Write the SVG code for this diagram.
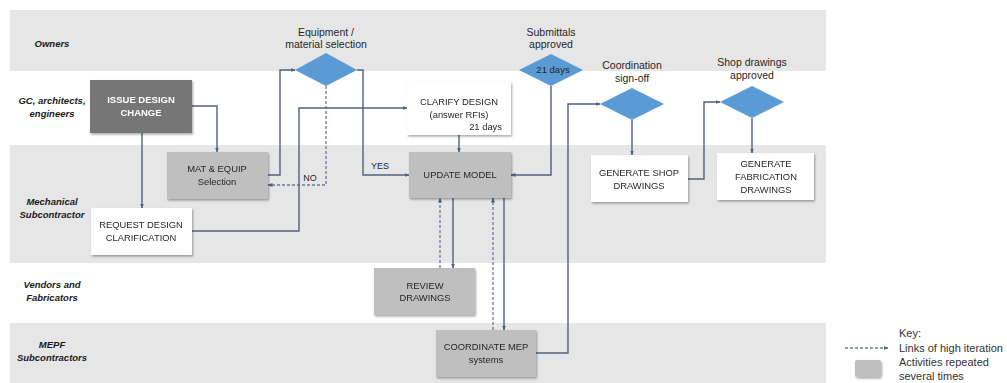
<svg xmlns="http://www.w3.org/2000/svg" width="1007" height="383" viewBox="0 0 1007 383">
  <defs>
    <style>
      .band { fill: #e6e6e6; }
      .lane { font-family: "Liberation Sans", Arial, sans-serif; font-size: 9.5px; font-weight: bold; font-style: italic; fill: #1a1a1a; text-anchor: middle; }
      .lbl { font-family: "Liberation Sans", Arial, sans-serif; font-size: 10.5px; fill: #262626; text-anchor: middle; }
      .yn { font-family: "Liberation Sans", Arial, sans-serif; font-size: 9px; fill: #262626; text-anchor: middle; }
      .boxtxt { font-family: "Liberation Sans", Arial, sans-serif; font-size: 9.4px; fill: #262626; text-anchor: middle; }
      .boxtxt-w { font-family: "Liberation Sans", Arial, sans-serif; font-size: 9.5px; font-weight: bold; fill: #ffffff; text-anchor: middle; }
      .days { font-family: "Liberation Sans", Arial, sans-serif; font-size: 9.4px; fill: #262626; text-anchor: end; }
      .key { font-family: "Liberation Sans", Arial, sans-serif; font-size: 11px; fill: #333333; }
      .dark { fill: #767676; }
      .light { fill: #bfbfbf; }
      .white { fill: #ffffff; }
      .dia { fill: #5b9bd5; }
      .con { fill: none; stroke: #52617f; stroke-width: 1.4; marker-end: url(#arr); }
      .dash { fill: none; stroke: #6a7a9a; stroke-width: 1.3; stroke-dasharray: 3 2; marker-end: url(#arr); }
    </style>
    <marker id="arr" viewBox="0 0 10 10" refX="9" refY="5" markerWidth="5" markerHeight="5" orient="auto" markerUnits="userSpaceOnUse">
      <path d="M0,1 L10,5 L0,9 z" fill="#52617f"/>
    </marker>
    <filter id="sh" x="-10%" y="-10%" width="125%" height="130%">
      <feDropShadow dx="1" dy="1.5" stdDeviation="1" flood-color="#000" flood-opacity="0.35"/>
    </filter>
  </defs>

  <!-- swimlane bands -->
  <g id="lanes">
    <rect class="band" x="10" y="10" width="816" height="61"/>
    <rect class="band" x="10" y="145" width="816" height="118"/>
    <rect class="band" x="10" y="323" width="816" height="60"/>
    <text class="lane" x="52" y="47">Owners</text>
    <text class="lane" x="52" y="104">GC, architects,</text>
    <text class="lane" x="52" y="117">engineers</text>
    <text class="lane" x="52" y="205">Mechanical</text>
    <text class="lane" x="52" y="218">Subcontractor</text>
    <text class="lane" x="52" y="288">Vendors and</text>
    <text class="lane" x="52" y="301">Fabricators</text>
    <text class="lane" x="52" y="348">MEPF</text>
    <text class="lane" x="52" y="361">Subcontractors</text>
  </g>

  <!-- connectors -->
  <g id="connectors">
    <polyline class="con" points="192,106 217,106 217,152"/>
    <polyline class="con" points="142,133 142,208"/>
    <polyline class="con" points="268,175 280,175 280,70 295,70"/>
    <polyline class="dash" points="326,86 326,185 268,185"/>
    <polyline class="con" points="357,70 363,70 363,175 409,175"/>
    <polyline class="con" points="192,231 299,231 299,108 407,108"/>
    <polyline class="con" points="459,135 459,152"/>
    <polyline class="con" points="551,86 551,175 511,175"/>
    <polyline class="con" points="453,198 453,268"/>
    <polyline class="dash" points="440,268 440,198"/>
    <polyline class="dash" points="493,330 493,198"/>
    <polyline class="con" points="504,198 504,330"/>
    <polyline class="con" points="536,353 568,353 568,104 600,104"/>
    <polyline class="con" points="632,120 632,155"/>
    <polyline class="con" points="688,179 704,179 704,102 720,102"/>
    <polyline class="con" points="752,118 752,153"/>
    <text class="yn" x="310" y="181">NO</text>
    <text class="yn" x="380" y="169">YES</text>
  </g>

  <!-- nodes -->
  <g id="issue-design-change" filter="url(#sh)">
    <rect class="dark" x="90" y="80" width="102" height="53"/>
    <text class="boxtxt-w" x="141" y="103">ISSUE DESIGN</text>
    <text class="boxtxt-w" x="141" y="116">CHANGE</text>
  </g>
  <g id="mat-equip" filter="url(#sh)">
    <rect class="light" x="167" y="152" width="101" height="47"/>
    <text class="boxtxt" x="217" y="172">MAT &amp; EQUIP</text>
    <text class="boxtxt" x="217" y="185">Selection</text>
  </g>
  <g id="request-design" filter="url(#sh)">
    <rect class="white" x="91" y="208" width="101" height="47"/>
    <text class="boxtxt" x="141" y="228">REQUEST DESIGN</text>
    <text class="boxtxt" x="141" y="241">CLARIFICATION</text>
  </g>
  <g id="equip-selection">
    <polygon class="dia" points="295,70 326,53 357,70 326,86"/>
    <text class="lbl" x="326" y="36">Equipment /</text>
    <text class="lbl" x="326" y="48">material selection</text>
  </g>
  <g id="clarify-design" filter="url(#sh)">
    <rect class="white" x="407" y="82" width="104" height="53"/>
    <text class="boxtxt" x="459" y="105">CLARIFY DESIGN</text>
    <text class="boxtxt" x="459" y="118">(answer RFIs)</text>
    <text class="days" x="502" y="130">21 days</text>
  </g>
  <g id="update-model" filter="url(#sh)">
    <rect class="light" x="409" y="152" width="102" height="46"/>
    <text class="boxtxt" x="460" y="178">UPDATE MODEL</text>
  </g>
  <g id="submittals">
    <polygon class="dia" points="519,70 551,54 583,70 551,86"/>
    <text class="lbl" x="551" y="36">Submittals</text>
    <text class="lbl" x="551" y="48">approved</text>
    <text class="yn" x="553" y="73" style="font-size:9.5px">21 days</text>
  </g>
  <g id="coordination-signoff">
    <polygon class="dia" points="600,104 632,88 664,104 632,120"/>
    <text class="lbl" x="632" y="69">Coordination</text>
    <text class="lbl" x="632" y="82">sign-off</text>
  </g>
  <g id="shop-approved">
    <polygon class="dia" points="720,102 752,86 784,102 752,118"/>
    <text class="lbl" x="752" y="66">Shop drawings</text>
    <text class="lbl" x="752" y="79">approved</text>
  </g>
  <g id="generate-shop" filter="url(#sh)">
    <rect class="white" x="591" y="155" width="97" height="47"/>
    <text class="boxtxt" x="639" y="176">GENERATE SHOP</text>
    <text class="boxtxt" x="639" y="189">DRAWINGS</text>
  </g>
  <g id="generate-fab" filter="url(#sh)">
    <rect class="white" x="717" y="153" width="97" height="47"/>
    <text class="boxtxt" x="766" y="167">GENERATE</text>
    <text class="boxtxt" x="766" y="180">FABRICATION</text>
    <text class="boxtxt" x="766" y="193">DRAWINGS</text>
  </g>
  <g id="review-drawings" filter="url(#sh)">
    <rect class="light" x="374" y="268" width="101" height="47"/>
    <text class="boxtxt" x="425" y="289">REVIEW</text>
    <text class="boxtxt" x="425" y="301">DRAWINGS</text>
  </g>
  <g id="coordinate-mep" filter="url(#sh)">
    <rect class="light" x="436" y="330" width="100" height="47"/>
    <text class="boxtxt" x="486" y="350">COORDINATE MEP</text>
    <text class="boxtxt" x="486" y="363">systems</text>
  </g>

  <!-- key -->
  <g id="key">
    <polyline class="dash" points="845,348 888,348"/>
    <rect class="light" x="855" y="360" width="26" height="17" rx="2" filter="url(#sh)"/>
    <text class="key" x="899" y="337">Key:</text>
    <text class="key" x="899" y="352">Links of high iteration</text>
    <text class="key" x="899" y="366">Activities repeated</text>
    <text class="key" x="899" y="380">several times</text>
  </g>
</svg>
